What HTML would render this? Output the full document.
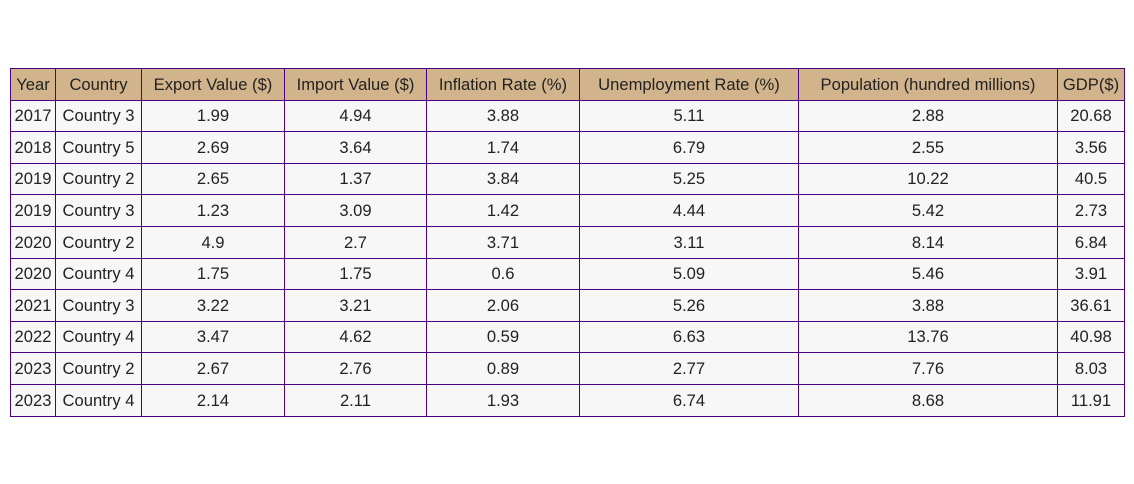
<!DOCTYPE html>
<html><head><meta charset="utf-8"><style>
body{margin:0;width:1134px;height:484px;background:#fff;position:relative;overflow:hidden;font-family:"Liberation Sans",Arial,sans-serif;}
.c{position:absolute;box-sizing:border-box;border:1px solid #4b0082;display:flex;align-items:center;justify-content:center;font-size:16.6px;color:#222;background:#f7f7f7;white-space:nowrap;}
.h{background:#d2b48c;}
</style></head><body>
<div id="t"></div>
<script>
const headers=["Year","Country","Export Value ($)","Import Value ($)","Inflation Rate (%)","Unemployment Rate (%)","Population (hundred millions)","GDP($)"];
const rows=[
["2017","Country 3","1.99","4.94","3.88","5.11","2.88","20.68"],
["2018","Country 5","2.69","3.64","1.74","6.79","2.55","3.56"],
["2019","Country 2","2.65","1.37","3.84","5.25","10.22","40.5"],
["2019","Country 3","1.23","3.09","1.42","4.44","5.42","2.73"],
["2020","Country 2","4.9","2.7","3.71","3.11","8.14","6.84"],
["2020","Country 4","1.75","1.75","0.6","5.09","5.46","3.91"],
["2021","Country 3","3.22","3.21","2.06","5.26","3.88","36.61"],
["2022","Country 4","3.47","4.62","0.59","6.63","13.76","40.98"],
["2023","Country 2","2.67","2.76","0.89","2.77","7.76","8.03"],
["2023","Country 4","2.14","2.11","1.93","6.74","8.68","11.91"]];
const xs=[10,55,141,284,426,579,798,1057,1124];
const y0=68,rh=31.6;
const t=document.getElementById('t');
function cell(txt,ci,ri,hdr){
 const d=document.createElement('div');
 d.className='c'+(hdr?' h':'');
 
 
 const top=Math.round(y0+ri*rh), bot=Math.round(y0+(ri+1)*rh);
 d.style.left=xs[ci]+'px';d.style.width=(xs[ci+1]-xs[ci]+1)+'px';
 d.style.top=top+'px';d.style.height=(bot-top+1)+'px';
 d.textContent=txt;t.appendChild(d);
}
headers.forEach((h,i)=>cell(h,i,0,true));
rows.forEach((r,ri)=>r.forEach((v,ci)=>cell(v,ci,ri+1,false)));
</script>
</body></html>
